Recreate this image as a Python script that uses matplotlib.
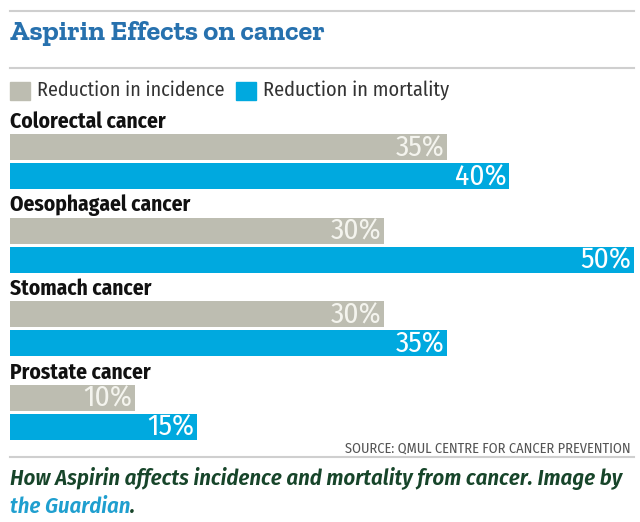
import matplotlib
matplotlib.use("Agg")
import matplotlib.pyplot as plt
import matplotlib.font_manager as fm

cancers = ["Colorectal cancer", "Oesophagael cancer", "Stomach cancer", "Prostate cancer"]
incidence = [35, 30, 30, 10]
mortality = [40, 50, 35, 15]
series_names = ["Reduction in incidence", "Reduction in mortality"]

GREY = "#bdbdb1"
BLUE = "#00a9df"

installed = {f.name for f in fm.fontManager.ttflist}


def pick(cands):
    for c in cands:
        if c in installed:
            return c
    return "DejaVu Sans"


narrow = pick(["Fira Sans Condensed", "Roboto Condensed", "PT Sans Narrow", "Open Sans Condensed",
               "Encode Sans Condensed", "Archivo Narrow", "Liberation Sans Narrow", "DejaVu Sans"])
slab = pick(["Zilla Slab", "Roboto Slab", "Arvo", "Bitter", "DejaVu Serif"])

W, H = 640, 522
fig = plt.figure(figsize=(W / 100, H / 100), dpi=100)
ax = fig.add_axes([0, 0, 1, 1])
# x in value units: 0 -> 10px, 50 -> 634px ; y in pixel rows
scale = 624 / 50
ax.set_xlim(-10 / scale, (W - 10) / scale)
ax.set_ylim(H, 0)
ax.axis("off")
renderer = fig.canvas.get_renderer()


def fx(px):
    return px / W


def fy(py):
    return 1 - py / H


def fit(t, width):
    # scale the font so the text is as wide as in the reference
    w = t.get_window_extent(renderer).width
    t.set_fontsize(t.get_fontsize() * width / w)
    return t


# rules
for yy in (11, 68, 457):
    fig.add_artist(plt.Line2D([fx(10), fx(634)], [fy(yy), fy(yy)], color="#cfcfcf", lw=1.5))

fit(fig.text(fx(10), fy(33), "Aspirin Effects on cancer", family=slab, weight="bold",
             fontsize=17, color="#2771ae", va="center", ha="left"), 315)

# legend
leg_x = [(10, 37, 188), (236, 263, 187)]
for name, col, (sx, tx, tw) in zip(series_names, [GREY, BLUE], leg_x):
    fig.patches.append(plt.Rectangle((fx(sx), fy(100)), 20 / W, 18 / H, color=col,
                                     transform=fig.transFigure, figure=fig))
    fit(fig.text(fx(tx), fy(90), name, family=narrow, fontsize=13, color="#333333",
                 va="center", ha="left"), tw)

# bars
top0, step = 122, 83.5
bh = 26
probe = ax.text(0, 0, cancers[0], family=narrow, weight="bold", fontsize=13)
fit(probe, 156)
cat_fs = probe.get_fontsize()
probe.remove()
probe = ax.text(0, 0, "35%", family=narrow, fontsize=18)
fit(probe, 49)
pct_fs = probe.get_fontsize()
probe.remove()

for i, (cat, a, b) in enumerate(zip(cancers, incidence, mortality)):
    top = top0 + i * step
    ax.text(0, top, cat, family=narrow, weight="bold", fontsize=cat_fs, color="#111111",
            va="center", ha="left")
    ax.barh(top + 25, a, height=bh, color=GREY, left=0)
    ax.barh(top + 54, b, height=bh, color=BLUE, left=0)
    ax.text(a - 0.2, top + 26, f"{a}%", family=narrow, fontsize=pct_fs, color="#f4f4ee",
            va="center", ha="right")
    ax.text(b - 0.2, top + 55, f"{b}%", family=narrow, fontsize=pct_fs, color="white",
            va="center", ha="right")

fit(fig.text(fx(631), fy(448), "SOURCE: QMUL CENTRE FOR CANCER PREVENTION", family=narrow,
             fontsize=8, color="#555555", va="center", ha="right"), 286)

cap = fit(fig.text(fx(10), fy(478),
                   "How Aspirin affects incidence and mortality from cancer. Image by",
                   family=narrow, style="italic", weight="semibold", fontsize=17,
                   color="#17452a", va="center", ha="left"), 611)
t1 = fig.text(fx(10), fy(507), "the Guardian", family=narrow, style="italic",
              weight="semibold", fontsize=cap.get_fontsize(), color="#1f9fcf",
              va="center", ha="left")
bb = t1.get_window_extent(renderer)
fig.text(bb.x1 / W, fy(507), ".", family=narrow, style="italic", weight="semibold",
         fontsize=cap.get_fontsize(), color="#17452a", va="center", ha="left")

fig.savefig("out.png", dpi=100)
